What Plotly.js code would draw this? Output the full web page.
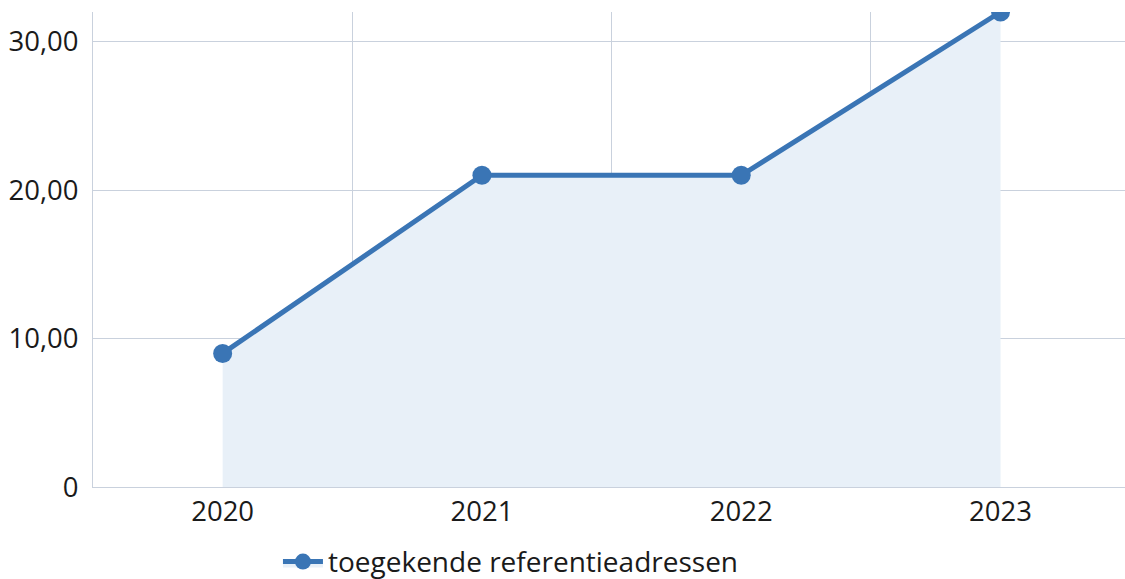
<!DOCTYPE html>
<html>
<head>
<meta charset="utf-8">
<script src="https://cdn.plot.ly/plotly-3.0.1.min.js"></script>
<style>html,body{margin:0;padding:0;overflow:hidden;background:#fff}#chart{width:1125px;height:579px}</style>
</head>
<body>
<div id="chart"></div>
<script>
const categories = ["2020", "2021", "2022", "2023"];
const values = [9, 21, 21, 32];
const seriesName = "toegekende referentieadressen";
const yTickVals = [0, 10, 20, 30];
const yTickText = ["0", "10,00", "20,00", "30,00"];

const font = "'Open Sans', 'Noto Sans', sans-serif";
const trace = {
  type: "scatter",
  mode: "lines+markers",
  x: categories,
  y: values,
  name: seriesName,
  fill: "tozeroy",
  fillcolor: "rgba(232,240,248,1)",
  line: {color: "#3a75b5", width: 5},
  marker: {color: "#3a75b5", size: 19},
  cliponaxis: true,
  hoverinfo: "x+y"
};
const layout = {
  width: 1125, height: 579,
  margin: {l: 93, r: 0, t: 12, b: 92, autoexpand: false},
  paper_bgcolor: "#fff", plot_bgcolor: "#fff",
  font: {family: font, size: 27, color: "#1a1a1a"},
  xaxis: {
    type: "category",
    range: [-0.5, 3.48],
    tickson: "boundaries",
    showgrid: true, gridcolor: "#c9d1dd", gridwidth: 1,
    showline: true, linecolor: "#c9d1dd", linewidth: 1,
    ticks: "", ticklen: 0,
    tickfont: {family: font, size: 27.5, color: "#1a1a1a"},
    zeroline: false, fixedrange: true, automargin: false
  },
  yaxis: {
    range: [0, 32],
    tickvals: yTickVals, ticktext: yTickText,
    showgrid: true, gridcolor: "#c9d1dd", gridwidth: 1,
    showline: true, linecolor: "#c9d1dd", linewidth: 1,
    zeroline: false, ticks: "", ticklabelstandoff: 8,
    tickfont: {family: font, size: 27.5, color: "#1a1a1a"},
    fixedrange: true, automargin: false
  },
  showlegend: true,
  legend: {
    orientation: "h", x: 0.405, xanchor: "center", y: -0.105, yanchor: "top",
    itemwidth: 40,
    font: {family: font, size: 28, color: "#1a1a1a"},
    bgcolor: "rgba(0,0,0,0)"
  }
};
Plotly.newPlot("chart", [trace], layout, {displayModeBar: false, staticPlot: true});
</script>
</body>
</html>
